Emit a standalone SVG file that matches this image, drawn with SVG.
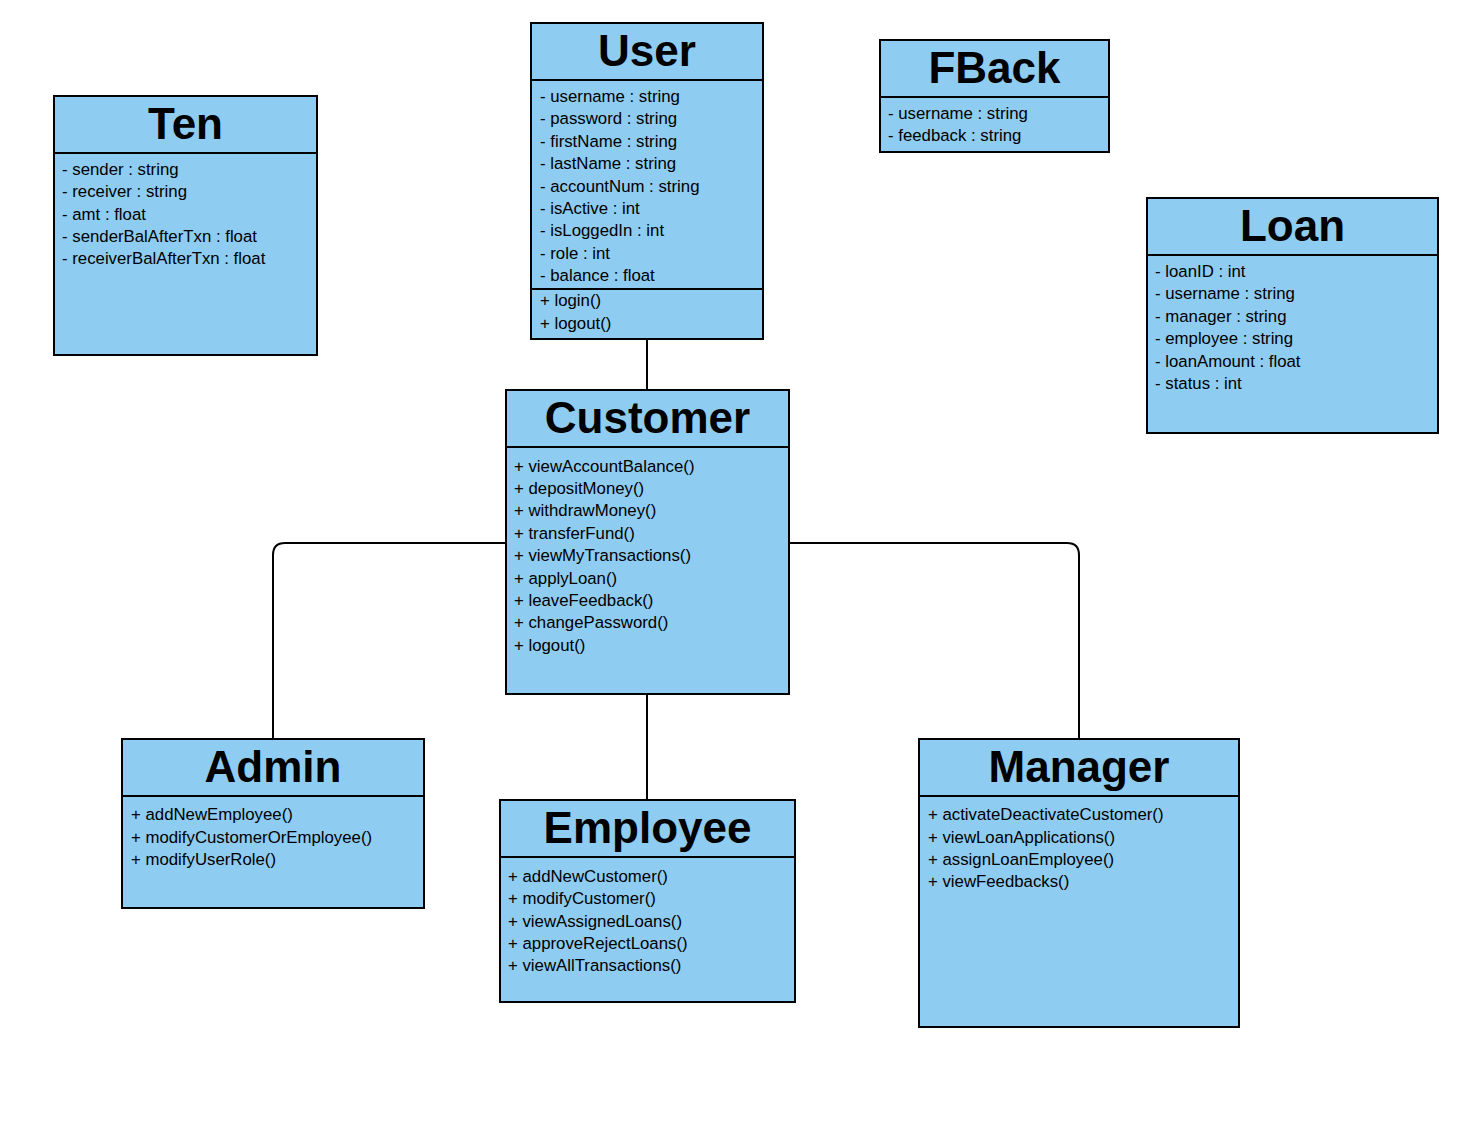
<svg xmlns="http://www.w3.org/2000/svg" width="1458" height="1136" viewBox="0 0 1458 1136">
<style>
.box{fill:#8fccf1;stroke:#000;stroke-width:2}
.sep{stroke:#000;stroke-width:2}
.title{font-family:"Liberation Sans",Arial,sans-serif;font-weight:bold;font-size:44px;text-anchor:middle;fill:#000}
.t{font-family:"Liberation Sans",Arial,sans-serif;font-size:16.8px;fill:#000}
.conn{fill:none;stroke:#000;stroke-width:2}
</style>
<rect width="1458" height="1136" fill="#fff"/>
<g id="connectors">
<path class="conn" d="M647 339 V390"/>
<path class="conn" d="M647 694 V800"/>
<path class="conn" d="M506 543 H285 Q273 543 273 555 V739"/>
<path class="conn" d="M789 543 H1067 Q1079 543 1079 555 V739"/>
</g>
<g id="Ten">
<rect class="box" x="54" y="96" width="263" height="259"/>
<line class="sep" x1="54" y1="153" x2="317" y2="153"/>
<text class="title" x="185.5" y="138.5">Ten</text>
<text class="t" x="62" y="174.5">- sender : string</text>
<text class="t" x="62" y="196.5">- receiver : string</text>
<text class="t" x="62" y="219.5">- amt : float</text>
<text class="t" x="62" y="241.5">- senderBalAfterTxn : float</text>
<text class="t" x="62" y="263.5">- receiverBalAfterTxn : float</text>
</g>
<g id="User">
<rect class="box" x="531" y="23" width="232" height="316"/>
<line class="sep" x1="531" y1="80" x2="763" y2="80"/>
<line class="sep" x1="531" y1="289" x2="763" y2="289"/>
<text class="title" x="647" y="65.5">User</text>
<text class="t" x="540" y="101.5">- username : string</text>
<text class="t" x="540" y="123.5">- password : string</text>
<text class="t" x="540" y="146.5">- firstName : string</text>
<text class="t" x="540" y="168.5">- lastName : string</text>
<text class="t" x="540" y="191.5">- accountNum : string</text>
<text class="t" x="540" y="213.5">- isActive : int</text>
<text class="t" x="540" y="235.5">- isLoggedIn : int</text>
<text class="t" x="540" y="258.5">- role : int</text>
<text class="t" x="540" y="280.5">- balance : float</text>
<text class="t" x="540" y="305.5">+ login()</text>
<text class="t" x="540" y="328.5">+ logout()</text>
</g>
<g id="FBack">
<rect class="box" x="880" y="40" width="229" height="112"/>
<line class="sep" x1="880" y1="97" x2="1109" y2="97"/>
<text class="title" x="994.5" y="82.5">FBack</text>
<text class="t" x="888" y="118.5">- username : string</text>
<text class="t" x="888" y="140.5">- feedback : string</text>
</g>
<g id="Loan">
<rect class="box" x="1147" y="198" width="291" height="235"/>
<line class="sep" x1="1147" y1="255" x2="1438" y2="255"/>
<text class="title" x="1292.5" y="240.5">Loan</text>
<text class="t" x="1155" y="276.5">- loanID : int</text>
<text class="t" x="1155" y="298.5">- username : string</text>
<text class="t" x="1155" y="321.5">- manager : string</text>
<text class="t" x="1155" y="343.5">- employee : string</text>
<text class="t" x="1155" y="366.5">- loanAmount : float</text>
<text class="t" x="1155" y="388.5">- status : int</text>
</g>
<g id="Customer">
<rect class="box" x="506" y="390" width="283" height="304"/>
<line class="sep" x1="506" y1="447" x2="789" y2="447"/>
<text class="title" x="647.5" y="432.5">Customer</text>
<text class="t" x="514" y="471.5">+ viewAccountBalance()</text>
<text class="t" x="514" y="493.5">+ depositMoney()</text>
<text class="t" x="514" y="515.5">+ withdrawMoney()</text>
<text class="t" x="514" y="538.5">+ transferFund()</text>
<text class="t" x="514" y="560.5">+ viewMyTransactions()</text>
<text class="t" x="514" y="583.5">+ applyLoan()</text>
<text class="t" x="514" y="605.5">+ leaveFeedback()</text>
<text class="t" x="514" y="627.5">+ changePassword()</text>
<text class="t" x="514" y="650.5">+ logout()</text>
</g>
<g id="Admin">
<rect class="box" x="122" y="739" width="302" height="169"/>
<line class="sep" x1="122" y1="796" x2="424" y2="796"/>
<text class="title" x="273" y="781.5">Admin</text>
<text class="t" x="131" y="819.5">+ addNewEmployee()</text>
<text class="t" x="131" y="842.5">+ modifyCustomerOrEmployee()</text>
<text class="t" x="131" y="864.5">+ modifyUserRole()</text>
</g>
<g id="Employee">
<rect class="box" x="500" y="800" width="295" height="202"/>
<line class="sep" x1="500" y1="857" x2="795" y2="857"/>
<text class="title" x="647.5" y="842.5">Employee</text>
<text class="t" x="508" y="881.5">+ addNewCustomer()</text>
<text class="t" x="508" y="903.5">+ modifyCustomer()</text>
<text class="t" x="508" y="926.5">+ viewAssignedLoans()</text>
<text class="t" x="508" y="948.5">+ approveRejectLoans()</text>
<text class="t" x="508" y="970.5">+ viewAllTransactions()</text>
</g>
<g id="Manager">
<rect class="box" x="919" y="739" width="320" height="288"/>
<line class="sep" x1="919" y1="796" x2="1239" y2="796"/>
<text class="title" x="1079" y="781.5">Manager</text>
<text class="t" x="928" y="819.5">+ activateDeactivateCustomer()</text>
<text class="t" x="928" y="842.5">+ viewLoanApplications()</text>
<text class="t" x="928" y="864.5">+ assignLoanEmployee()</text>
<text class="t" x="928" y="886.5">+ viewFeedbacks()</text>
</g>
</svg>
